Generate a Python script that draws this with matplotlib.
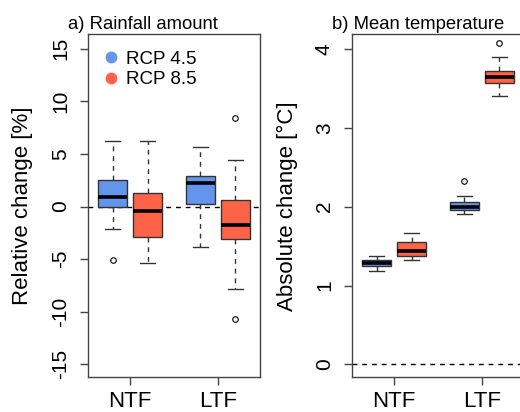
import matplotlib
matplotlib.use("Agg")
import matplotlib.pyplot as plt
from matplotlib.lines import Line2D

plt.rcParams['font.family'] = ['Liberation Sans', 'DejaVu Sans']

groups = ["NTF", "LTF"]
scenarios = ["RCP 4.5", "RCP 8.5"]
colors = ["#6495ED", "#FF6347"]

# Rainfall amount, relative change [%]
rain45_whislo = [-2.1, -3.85]
rain45_q1 = [0.0, 0.2]
rain45_med = [0.9, 2.25]
rain45_q3 = [2.55, 2.9]
rain45_whishi = [6.2, 5.7]
rain45_fliers = [[-5.1], []]

rain85_whislo = [-5.4, -7.85]
rain85_q1 = [-2.85, -3.1]
rain85_med = [-0.45, -1.75]
rain85_q3 = [1.25, 0.65]
rain85_whishi = [6.2, 4.4]
rain85_fliers = [[], [8.4, -10.65]]

# Mean temperature, absolute change [°C]
temp45_whislo = [1.19, 1.905]
temp45_q1 = [1.25, 1.96]
temp45_med = [1.29, 1.99]
temp45_q3 = [1.32, 2.055]
temp45_whishi = [1.375, 2.135]
temp45_fliers = [[], [2.33]]

temp85_whislo = [1.32, 3.40]
temp85_q1 = [1.375, 3.57]
temp85_med = [1.44, 3.64]
temp85_q3 = [1.555, 3.72]
temp85_whishi = [1.66, 3.895]
temp85_fliers = [[], [4.07]]

rain_yticks = [-15, -10, -5, 0, 5, 10, 15]
temp_yticks = [0, 1, 2, 3, 4]


def stats(wl, q1, med, q3, wh, fl):
    return [dict(whislo=wl[i], q1=q1[i], med=med[i], q3=q3[i], whishi=wh[i],
                 fliers=fl[i]) for i in range(len(groups))]


def draw(ax, s45, s85, ylim, yticks):
    pos45 = [1, 3.5]
    pos85 = [2, 4.5]
    w = 0.83
    for st, pos, col in ((s45, pos45, colors[0]), (s85, pos85, colors[1])):
        ax.bxp(st, positions=pos, widths=w, capwidths=w / 2, patch_artist=True,
               showfliers=True,
               boxprops=dict(facecolor=col, edgecolor="#333333", linewidth=1),
               medianprops=dict(color="black", linewidth=2.6, solid_capstyle="butt"),
               whiskerprops=dict(color="#333333", linewidth=1, linestyle=(0, (3.5, 3.5))),
               capprops=dict(color="#333333", linewidth=1),
               flierprops=dict(marker="o", markersize=4, markerfacecolor="none",
                               markeredgecolor="black", markeredgewidth=0.8),
               zorder=3)
    ax.axhline(0, color="black", linewidth=1, linestyle=(0, (3.5, 3.5)), zorder=2)
    ax.set_xlim(0.3, 5.2)
    ax.set_ylim(*ylim)
    ax.set_xticks([1.5, 4.0])
    ax.set_xticklabels(groups)
    ax.set_yticks(yticks)
    ax.set_yticklabels([str(t) for t in yticks])
    ax.tick_params(axis="y", labelrotation=90, length=6, width=1, color="#444444",
                   labelsize=15, pad=7)
    for lab in ax.get_yticklabels():
        lab.set_verticalalignment("center")
    ax.tick_params(axis="x", length=6, width=1, color="#444444", labelsize=16, pad=4)
    for sp in ax.spines.values():
        sp.set_color("#444444")
        sp.set_linewidth(1)


fig = plt.figure(figsize=(5.2, 4.12), dpi=100)
ax1 = fig.add_axes([88 / 520, 35 / 412, 172 / 520, 343 / 412])
ax2 = fig.add_axes([352 / 520, 35 / 412, 172 / 520, 343 / 412])

draw(ax1,
     stats(rain45_whislo, rain45_q1, rain45_med, rain45_q3, rain45_whishi, rain45_fliers),
     stats(rain85_whislo, rain85_q1, rain85_med, rain85_q3, rain85_whishi, rain85_fliers),
     (-16.2, 16.4), rain_yticks)
draw(ax2,
     stats(temp45_whislo, temp45_q1, temp45_med, temp45_q3, temp45_whishi, temp45_fliers),
     stats(temp85_whislo, temp85_q1, temp85_med, temp85_q3, temp85_whishi, temp85_fliers),
     (-0.16, 4.19), temp_yticks)

fig.text(23 / 520, 0.5, "Relative change [%]", rotation=90, ha="center", va="center",
         fontsize=16)
fig.text(287 / 520, 0.5, "Absolute change [°C]", rotation=90, ha="center", va="center",
         fontsize=16)
fig.text(143 / 520, 1 - 29 / 412, "a) Rainfall amount", ha="center", va="baseline",
         fontsize=13.3)
fig.text(418 / 520, 1 - 29 / 412, "b) Mean temperature", ha="center", va="baseline",
         fontsize=13.3)

handles = [Line2D([], [], marker="o", linestyle="none", markersize=7.5,
                  markerfacecolor=c, markeredgecolor=c) for c in colors]
ax1.legend(handles, scenarios, loc="upper left", bbox_to_anchor=(0.0, 0.985),
           frameon=False, fontsize=13.5, handletextpad=0.2, labelspacing=0.2,
           handlelength=1.2, borderaxespad=0.2)

fig.savefig("out.png", dpi=100)
